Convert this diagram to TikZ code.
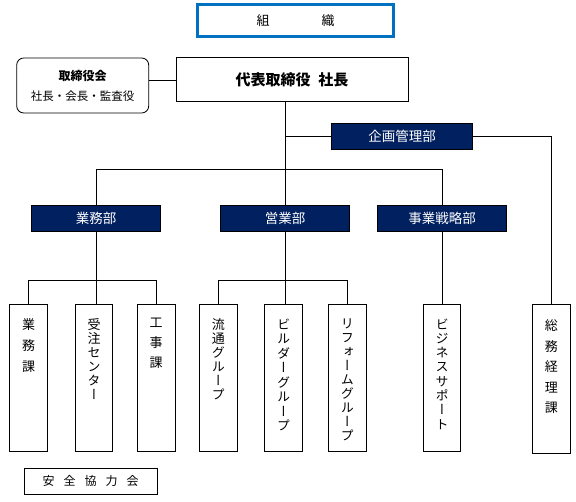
\documentclass[tikz,border=0pt]{standalone}
\usepackage{fontspec}
\setmainfont{Noto Sans CJK JP}
\newfontfamily\tatefont[RawFeature=+vert]{Noto Sans CJK JP}
\definecolor{kon}{HTML}{002060}
\definecolor{waku}{HTML}{0070C0}
\newcommand\tate[2]{\parbox[c][118pt][t]{20pt}{\centering\baselineskip=#1\relax #2\par}}

\begin{document}
\begin{tikzpicture}[x=1pt,y=-1pt,line width=0.8pt,
  titlebox/.style={draw=waku,line width=2.2pt,minimum width=196pt,minimum height=32pt,inner sep=0pt,font=\fontsize{13}{14}\selectfont},
  board/.style={draw,rounded corners=7pt,minimum width=132pt,minimum height=55pt,inner sep=0pt,align=center,font=\fontsize{11.5}{20}\selectfont},
  boss/.style={draw,line width=1pt,minimum width=232pt,minimum height=44pt,inner sep=0pt,font=\bfseries\fontsize{15}{16}\selectfont},
  dept/.style={draw,fill=kon,text=white,minimum width=129pt,minimum height=26pt,inner sep=0pt,font=\fontsize{13.5}{14}\selectfont},
  unit/.style={draw,minimum width=37.5pt,minimum height=147pt,inner sep=0pt,font=\tatefont\fontsize{13}{14}\selectfont},
  kyoryoku/.style={draw,minimum width=133pt,minimum height=26pt,inner sep=0pt,font=\fontsize{12}{13}\selectfont}]
  \useasboundingbox (0,0) rectangle (576,502);

  \node[titlebox] (title) at (295.5,20.5) {組　　　　織};
  \node[board] (board) at (82.7,85.5) {{\bfseries\fontsize{12}{20}\selectfont 取締役会}\\社長・会長・監査役};
  \node[boss] (boss) at (292,80) {\spaceskip=8pt 代表取締役 社長};

  \node[dept,minimum width=141pt] (kikaku) at (402.2,136.3) {企画管理部};
  \node[dept] (gyomubu) at (96,218.3) {業務部};
  \node[dept] (eigyo) at (285,218.3) {営業部};
  \node[dept] (senryaku) at (442,218.3) {事業戦略部};

  \node[unit] (gyomuka) at (28.5,377.5) {\tate{21pt}{業\\務\\課}};
  \node[unit] (juchu) at (94,377.5) {\tate{14pt}{受\\注\\セ\\ン\\タ\\ー}};
  \node[unit] (koji) at (156.2,377.5) {\tate{20pt}{工\\事\\課}};
  \node[unit] (ryutsu) at (218.3,377.5) {\tate{14pt}{流\\通\\グ\\ル\\ー\\プ}};
  \node[unit] (builder) at (283.5,377.5) {\tate{14.5pt}{ビ\\ル\\ダ\\ー\\グ\\ル\\ー\\プ}};
  \node[unit] (reform) at (347.4,377.5) {\tate{14pt}{リ\\フ\\ォ\\ー\\ム\\グ\\ル\\ー\\プ}};
  \node[unit] (bizsup) at (442,377.5) {\tate{14.3pt}{ビ\\ジ\\ネ\\ス\\サ\\ポ\\ー\\ト}};
  \node[unit,minimum height=149pt] (somu) at (551.4,378.7) {\tate{20.5pt}{総\\務\\経\\理\\課}};

  \node[kyoryoku] (anzen) at (90.5,481) {\spaceskip=9pt 安 全 協 力 会};

  \draw (board.east |- boss.west) -- (boss.west);
  \draw (boss.south -| eigyo) -- (eigyo.north);
  \draw (kikaku.west -| eigyo) -- (kikaku.west);
  \draw (kikaku.east) -| (somu.north);
  \draw (gyomubu.north) -- ++(0,-35) -| (senryaku.north);
  \draw (gyomuka.north) -- ++(0,-23) -| (koji.north);
  \draw (gyomubu.south) -- (gyomubu.south |- juchu.north);
  \draw (ryutsu.north) -- ++(0,-23) -| (reform.north);
  \draw (eigyo.south) -- (eigyo.south |- builder.north);
  \draw (senryaku.south) -- (bizsup.north);
\end{tikzpicture}
\end{document}
